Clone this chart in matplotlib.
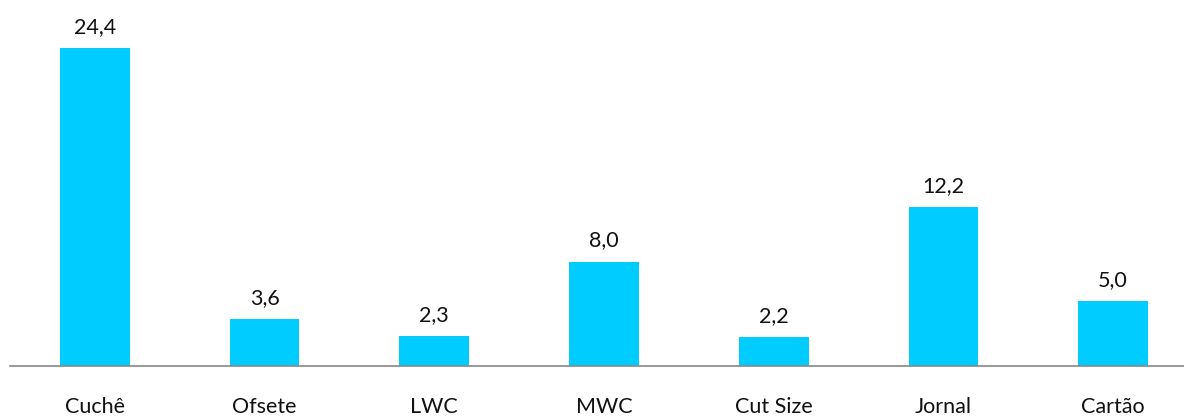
import matplotlib
matplotlib.use("Agg")
import matplotlib.pyplot as plt

categories = ["Cuchê", "Ofsete", "LWC", "MWC", "Cut Size", "Jornal", "Cartão"]
values = [24.4, 3.6, 2.3, 8.0, 2.2, 12.2, 5.0]

plt.rcParams['font.family'] = ['Lato', 'DejaVu Sans']

fig = plt.figure(figsize=(11.84, 4.17), dpi=100)
ax = fig.add_axes([10 / 1184, 51 / 417, 1188 / 1184, 339 / 417])

x = range(len(categories))
bars = ax.bar(x, values, width=0.41, color="#00CCFF")

for xi, v in zip(x, values):
    ax.annotate(f"{v:.1f}".replace(".", ","), (xi, v), xytext=(0, 8),
                textcoords="offset points", ha="center", va="bottom",
                fontsize=15.5, color="#111111", clip_on=False)

ax.set_xlim(-0.5, len(categories) - 0.5)
ax.set_ylim(0, 26)
ax.set_xticks(list(x))
ax.set_xticklabels(categories, fontsize=15.5, color="#111111")
ax.tick_params(axis="x", length=0, pad=22)
ax.set_yticks([])
for s in ["top", "right", "left"]:
    ax.spines[s].set_visible(False)
ax.spines["bottom"].set_color("#888888")
ax.spines["bottom"].set_linewidth(1.2)

fig.savefig("out.png", dpi=100)
